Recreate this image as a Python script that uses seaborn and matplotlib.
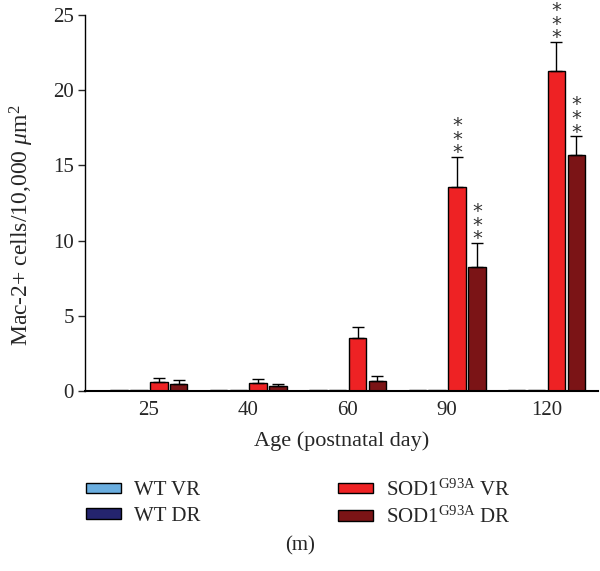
import matplotlib
matplotlib.use("Agg")
import matplotlib.pyplot as plt
import numpy as np
import pandas as pd
import seaborn as sns
from matplotlib.patches import Patch

# Data
ages = ["25", "40", "60", "90", "120"]
groups = ["WT VR", "WT DR", "SOD1$^{\\mathregular{G93A}}$ VR", "SOD1$^{\\mathregular{G93A}}$ DR"]
wt_vr = [0.05, 0.05, 0.05, 0.05, 0.05]
wt_dr = [0.05, 0.05, 0.05, 0.05, 0.05]
sod_vr = [0.60, 0.55, 3.52, 13.54, 21.28]
sod_dr = [0.50, 0.33, 0.68, 8.22, 15.69]
wt_vr_err = [0, 0, 0, 0, 0]
wt_dr_err = [0, 0, 0, 0, 0]
sod_vr_err = [0.24, 0.27, 0.73, 2.04, 1.92]
sod_dr_err = [0.25, 0.16, 0.32, 1.64, 1.26]
stars_vr = ["", "", "", "***", "***"]
stars_dr = ["", "", "", "***", "***"]
colors = ["#6aaee0", "#24246e", "#ee2224", "#7b1416"]

sns.set_style("white")
plt.rcParams["font.family"] = ["Liberation Serif", "DejaVu Serif"]
plt.rcParams["mathtext.fontset"] = "custom"
plt.rcParams["mathtext.rm"] = "Liberation Serif"
plt.rcParams["mathtext.it"] = "Liberation Serif:italic"

df = pd.DataFrame({
    "age": ages * 4,
    "group": np.repeat(groups, len(ages)),
    "value": wt_vr + wt_dr + sod_vr + sod_dr,
})
errs = [wt_vr_err, wt_dr_err, sod_vr_err, sod_dr_err]
stars = [[""] * 5, [""] * 5, stars_vr, stars_dr]

fig = plt.figure(figsize=(6.0, 5.71), dpi=100)
ax = fig.add_axes([0.142, 0.315, 0.855, 0.659])

sns.barplot(data=df, x="age", y="value", hue="group", order=ages, hue_order=groups,
            palette=colors, saturation=1, errorbar=None, width=0.8, gap=0.12,
            edgecolor="black", linewidth=1.0, legend=False, ax=ax)

# error bars (upward only) and significance stars
bar_sets = list(ax.containers)
for gi, cont in enumerate(bar_sets):
    for ai, bar in enumerate(cont):
        e = errs[gi][ai]
        cx = bar.get_x() + bar.get_width() / 2
        top = bar.get_height()
        if e > 0:
            ax.errorbar(cx, top, yerr=[[0], [e]], fmt="none", ecolor="black",
                        elinewidth=1.0, capsize=4, capthick=1.0)
        s = stars[gi][ai]
        if s:
            ax.annotate("\n".join(s), xy=(cx, top + e), xytext=(0, -4),
                        textcoords="offset points", ha="center", va="bottom",
                        fontsize=14, color="#333333", family="DejaVu Sans",
                        linespacing=0.64, annotation_clip=False)

ax.set_ylim(0, 25)
ax.set_xlim(-0.64, 4.52)
ax.set_yticks([0, 5, 10, 15, 20, 25])
sns.despine(ax=ax)
for sp in ["left", "bottom"]:
    ax.spines[sp].set_color("black")
    ax.spines[sp].set_linewidth(1.0)
ax.spines["bottom"].set_linewidth(1.5)
ax.tick_params(axis="y", direction="out", length=5, width=1, left=True, labelsize=15, pad=3)
ax.tick_params(axis="x", length=0, labelsize=15, pad=7)
ax.set_xlabel("Age (postnatal day)", fontsize=16, labelpad=8)
ax.set_ylabel("Mac-2+ cells/10,000 $\\mathit{\\mu}$m$^2$", fontsize=17)
ax.yaxis.set_label_coords(-0.095, 0.44)

handles = [Patch(facecolor=c, edgecolor="black", linewidth=1.0) for c in colors]
fig.legend(handles=handles, labels=groups, loc="center", bbox_to_anchor=(0.497, 0.118),
           ncol=2, frameon=False, fontsize=15, handlelength=1.7, handleheight=0.4,
           columnspacing=6.6, labelspacing=0.3, handletextpad=0.6)

fig.text(0.5, 0.044, "(m)", ha="center", va="center", fontsize=15)

fig.savefig("out.png", dpi=100)
